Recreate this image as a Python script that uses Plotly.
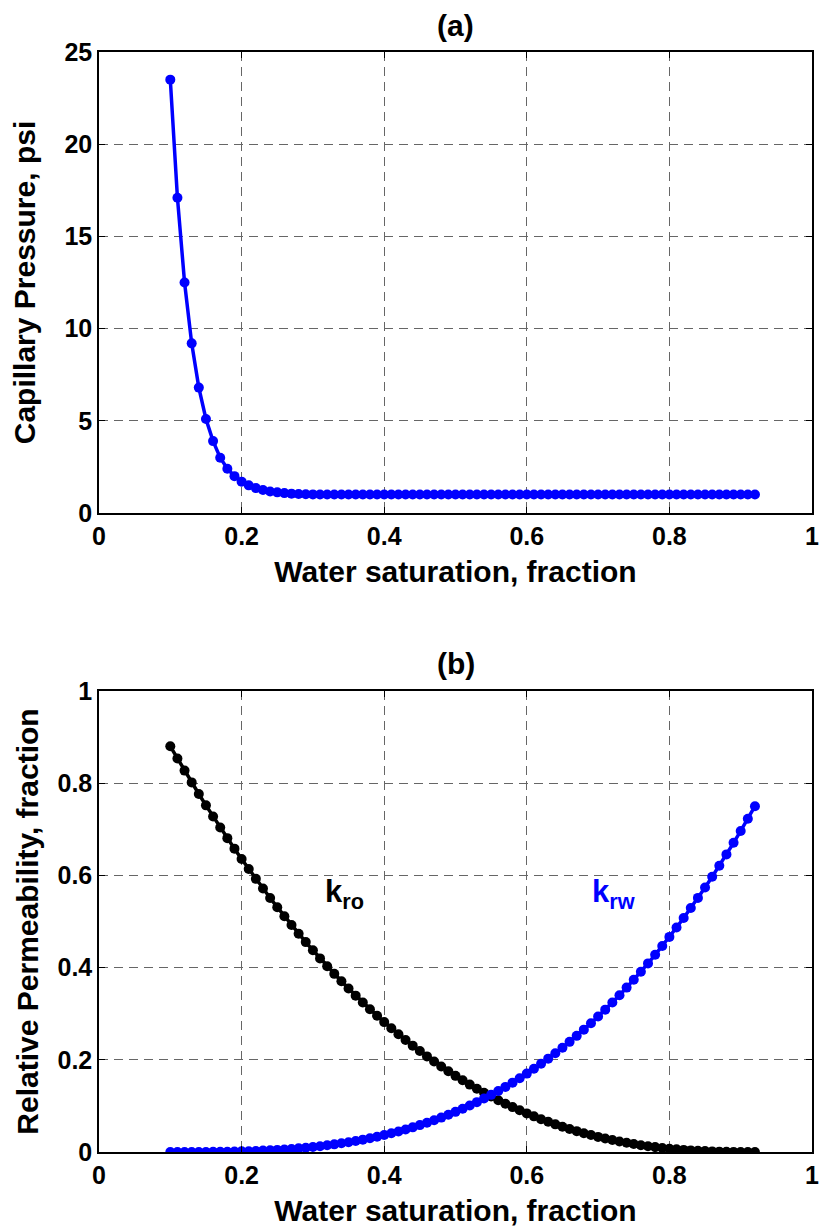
import plotly.graph_objects as go

# ---------------- data ----------------
sw = [round(0.10 + 0.01 * i, 2) for i in range(83)]  # water saturation grid 0.10 .. 0.92

pc = [23.5, 17.1, 12.5, 9.2, 6.8, 5.1, 3.9, 3.0, 2.4, 2.0, 1.7, 1.5, 1.35, 1.25,
      1.17, 1.12, 1.08, 1.05, 1.03, 1.02, 1.01] + [1.0] * 62

krw = [0.0, 0.0, 0.00001, 0.00004, 0.00009, 0.00017, 0.00029, 0.00047, 0.0007, 0.00099,
       0.00136, 0.00181, 0.00235, 0.00299, 0.00373, 0.00459, 0.00557, 0.00668, 0.00793,
       0.00933, 0.01088, 0.0126, 0.01448, 0.01655, 0.0188, 0.02125, 0.02391, 0.02677,
       0.02986, 0.03318, 0.03673, 0.04052, 0.04457, 0.04888, 0.05346, 0.05832, 0.06346,
       0.0689, 0.07464, 0.08069, 0.08706, 0.09375, 0.10078, 0.10815, 0.11587, 0.12395,
       0.1324, 0.14123, 0.15043, 0.16003, 0.17003, 0.18044, 0.19126, 0.20251, 0.21419,
       0.22631, 0.23888, 0.25191, 0.2654, 0.27937, 0.29382, 0.30876, 0.32419, 0.34013,
       0.35658, 0.37356, 0.39107, 0.40911, 0.42771, 0.44686, 0.46657, 0.48685, 0.50772,
       0.52916, 0.55121, 0.57386, 0.59712, 0.621, 0.64551, 0.67066, 0.69645, 0.7229, 0.75]

kro = [0.88, 0.8534, 0.8273, 0.8017, 0.7766, 0.7519, 0.7278, 0.704, 0.6808, 0.658,
       0.6357, 0.6139, 0.5925, 0.5716, 0.5511, 0.531, 0.5115, 0.4923, 0.4736, 0.4553,
       0.4375, 0.42, 0.403, 0.3864, 0.3703, 0.3545, 0.3392, 0.3242, 0.3097, 0.2956,
       0.2818, 0.2685, 0.2555, 0.2429, 0.2307, 0.2189, 0.2074, 0.1963, 0.1856, 0.1752,
       0.1652, 0.1556, 0.1462, 0.1373, 0.1286, 0.1204, 0.1124, 0.1047, 0.0974, 0.0904,
       0.0837, 0.0773, 0.0712, 0.0655, 0.06, 0.0547, 0.0498, 0.0452, 0.0408, 0.0367,
       0.0328, 0.0292, 0.0259, 0.0227, 0.0199, 0.0172, 0.0148, 0.0126, 0.0106, 0.0088,
       0.0072, 0.0058, 0.0046, 0.0035, 0.0026, 0.0019, 0.0013, 0.0008, 0.0005, 0.0002,
       0.0001, 0.0, 0.0]

x_ticks = [0, 0.2, 0.4, 0.6, 0.8, 1]
x_ticktext = ["0", "0.2", "0.4", "0.6", "0.8", "1"]
pc_ticks = [0, 5, 10, 15, 20, 25]
pc_ticktext = ["0", "5", "10", "15", "20", "25"]
kr_ticks = [0, 0.2, 0.4, 0.6, 0.8, 1]
kr_ticktext = ["0", "0.2", "0.4", "0.6", "0.8", "1"]

# ---------------- figure ----------------
FONT = "Liberation Sans, Arial, sans-serif"
BLUE = "#0000FF"

fig = go.Figure()
fig.add_trace(go.Scatter(x=sw, y=pc, mode="lines+markers", xaxis="x", yaxis="y",
                         line=dict(color=BLUE, width=3.5), marker=dict(color=BLUE, size=10),
                         showlegend=False))
fig.add_trace(go.Scatter(x=sw, y=kro, mode="lines+markers", xaxis="x2", yaxis="y2",
                         line=dict(color="black", width=3.5), marker=dict(color="black", size=10),
                         showlegend=False))
fig.add_trace(go.Scatter(x=sw, y=krw, mode="lines+markers", xaxis="x2", yaxis="y2",
                         line=dict(color=BLUE, width=3.5), marker=dict(color=BLUE, size=10),
                         showlegend=False))

tickfont = dict(family=FONT, size=25, color="black", weight="bold")
titlefont = dict(family=FONT, size=30, color="black", weight="bold")
common = dict(showline=True, linecolor="black", linewidth=1.5, mirror="ticks",
              ticks="inside", ticklen=6, tickcolor="black", tickwidth=1,
              showgrid=True, gridcolor="#666666", gridwidth=1, griddash="9px,6px",
              zeroline=False, tickfont=tickfont, automargin=False)

fig.update_layout(
    width=820, height=1230,
    margin=dict(l=99, r=8, t=52, b=78),
    paper_bgcolor="white", plot_bgcolor="white",
    xaxis=dict(domain=[0, 1], anchor="y", range=[0, 1], tickvals=x_ticks,
               ticktext=x_ticktext,
               title=dict(text="Water saturation, fraction", font=titlefont, standoff=12),
               **common),
    yaxis=dict(domain=[0.5809, 1], anchor="x", range=[0, 25], tickvals=pc_ticks,
               ticktext=pc_ticktext,
               title=dict(text="Capillary Pressure, psi", font=titlefont, standoff=20),
               **common),
    xaxis2=dict(domain=[0, 1], anchor="y2", range=[0, 1], tickvals=x_ticks,
                ticktext=x_ticktext,
                title=dict(text="Water saturation, fraction", font=titlefont, standoff=12),
                **common),
    yaxis2=dict(domain=[0, 0.4191], anchor="x2", range=[0, 1], tickvals=kr_ticks,
                ticktext=kr_ticktext,
                title=dict(text="Relative Permeability, fraction", font=titlefont, standoff=10),
                **common),
)

ann = [
    dict(text="(a)", x=0.5, y=1.0245, xref="paper", yref="paper", showarrow=False,
         font=dict(family=FONT, size=30, color="black", weight="bold"),
         xanchor="center", yanchor="middle"),
    dict(text="(b)", x=0.5, y=0.4445, xref="paper", yref="paper", showarrow=False,
         font=dict(family=FONT, size=30, color="black", weight="bold"),
         xanchor="center", yanchor="middle"),
    dict(text="k<sub>ro</sub>", x=0.314, y=0.56, xref="x2", yref="y2", showarrow=False,
         font=dict(family=FONT, size=31, color="black", weight="bold"),
         xanchor="left", yanchor="middle"),
    dict(text="k<sub>rw</sub>", x=0.689, y=0.56, xref="x2", yref="y2", showarrow=False,
         font=dict(family=FONT, size=31, color=BLUE, weight="bold"),
         xanchor="left", yanchor="middle"),
]
fig.update_layout(annotations=ann)

fig.write_html("out.html")
